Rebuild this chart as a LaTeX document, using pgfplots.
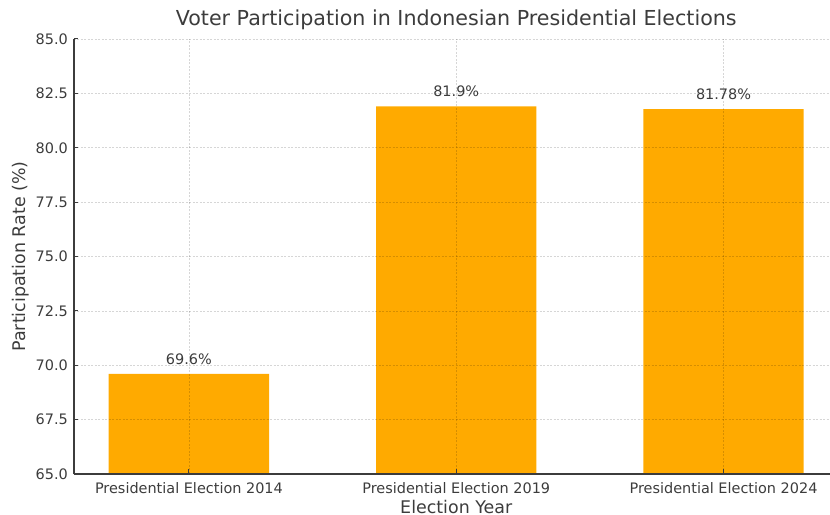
\documentclass[border=0pt]{standalone}
\usepackage{fontspec}
\setmainfont{DejaVu Sans}
\usepackage{pgfplots}
\pgfplotsset{compat=1.18}
\definecolor{barorange}{HTML}{FFAA00}
\definecolor{txt}{HTML}{3C3C3C}

\begin{document}
\begin{tikzpicture}
\begin{axis}[
  x=267.3bp, y=21.75bp,
  xmin=-0.43, xmax=2.43, ymin=65, ymax=85,
  axis x line*=bottom, axis y line*=left,
  axis line style={txt, line width=1.1bp, -},
  axis on top,
  ybar, bar width=0.6,
  xtick={0,1,2},
  xticklabels={Presidential Election 2014, Presidential Election 2019, Presidential Election 2024},
  ytick={65,67.5,70,72.5,75,77.5,80,82.5,85},
  /pgf/number format/assume math mode=true,
  yticklabel={\pgfmathprintnumber[fixed, fixed zerofill, precision=1]{\tick}},
  tick align=inside, major tick length=4.5bp,
  tick style={txt, line width=1bp},
  grid=major,
  major grid style={black, opacity=0.16, dash pattern=on 2bp off 1.5bp, line width=0.6bp},
  ticklabel style={font=\fontsize{14.5}{17}\selectfont, text=txt},
  xticklabel style={anchor=base, inner sep=0pt, yshift=-19bp},
  yticklabel style={anchor=east, inner sep=0pt, xshift=-6bp},
  title={Voter Participation in Indonesian Presidential Elections},
  title style={font=\fontsize{20.7}{24}\selectfont, text=txt, at={(axis description cs:0.5,1)}, anchor=base, inner sep=0pt, yshift=8bp},
  xlabel={Election Year},
  xlabel style={font=\fontsize{17.5}{20}\selectfont, text=txt, at={(axis description cs:0.5,0)}, anchor=base, inner sep=0pt, yshift=-39bp},
  ylabel={Participation Rate (\%)},
  ylabel style={font=\fontsize{17.5}{20}\selectfont, text=txt, at={(axis description cs:-0.0811,0.5)}, anchor=north, inner sep=0pt},
  nodes near coords={\pgfmathprintnumber[fixed, precision=2]{\pgfplotspointmeta}\%},
  nodes near coords style={font=\fontsize{14.5}{17}\selectfont, text=txt, anchor=base, inner sep=0pt, yshift=9.5bp},
]
\addplot[fill=barorange, draw=none] coordinates {(0,69.6) (1,81.9) (2,81.78)};
\end{axis}
\pgfresetboundingbox
\path ([shift={(-74bp,-41bp)}]current axis.south west) rectangle ([shift={(756bp,474bp)}]current axis.south west);
\end{tikzpicture}
\end{document}
